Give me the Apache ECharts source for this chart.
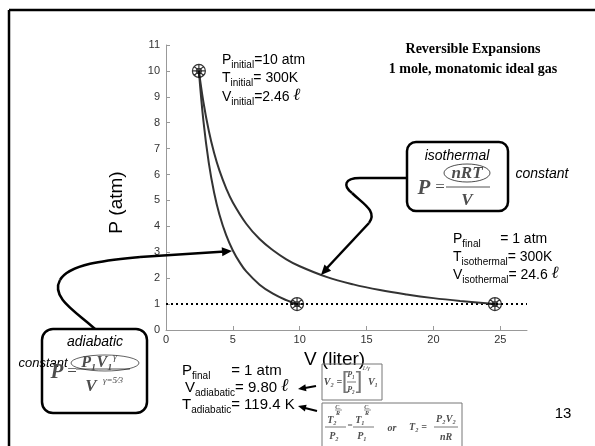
<!DOCTYPE html>
<html><head><meta charset="utf-8">
<script src="https://cdn.jsdelivr.net/npm/echarts@6/dist/echarts.min.js"></script>
<style>html,body{margin:0;padding:0;background:#fff}#c{width:595px;height:446px}</style>
</head><body><div id="c"></div>
<script>
// ---- data ----
const isoV = [2.46, 2.8, 3.2, 3.6, 4, 4.5, 5, 6, 7, 8, 9, 10, 12, 14, 16, 18, 20, 22, 24.6];
const isoP = [10, 8.79, 7.69, 6.83, 6.15, 5.47, 4.92, 4.10, 3.51, 3.08, 2.73, 2.46, 2.05, 1.76, 1.54, 1.37, 1.23, 1.12, 1.0];
const adiV = [2.46, 2.8, 3.2, 3.6, 4, 4.5, 5, 5.5, 6, 7, 8, 9, 9.8];
const adiP = [10, 8.06, 6.45, 5.30, 4.45, 3.66, 3.07, 2.62, 2.26, 1.75, 1.40, 1.15, 1.0];
const stateV = [2.46, 9.80, 24.6];
const stateP = [10, 1, 1];
const refLineV = [0, 27];
const refLineP = [1, 1];
const xTicks = [0, 5, 10, 15, 20, 25];
const yTicks = [0, 1, 2, 3, 4, 5, 6, 7, 8, 9, 10, 11];

const SANS = '"Liberation Sans", Arial, sans-serif';
const SERIF = '"Liberation Serif", "Times New Roman", serif';
const zip = (a, b) => a.map((v, i) => [v, b[i]]);

function richSet(fs, sfs) {
  return {
    m: {fontSize: fs, fontFamily: SANS, fill: '#000', lineHeight: fs, padding: [0, 0, 3, 0], verticalAlign: 'bottom'},
    s: {fontSize: sfs, fontFamily: SANS, fill: '#000', lineHeight: sfs, verticalAlign: 'bottom'},
    l: {fontSize: fs + 3, fontFamily: '"DejaVu Serif", serif', fontStyle: 'italic', fontWeight: 'bold', fill: '#000', lineHeight: fs, padding: [0, 0, 3, 0], verticalAlign: 'bottom'}
  };
}
function rt(x, y, text, fs, sfs) {
  return {type: 'text', x: x, y: y, z: 50, style: {text: text, rich: richSet(fs, sfs), fontSize: fs, fontFamily: SANS, align: 'left', textAlign: 'left', verticalAlign: 'top', textVerticalAlign: 'top'}};
}
function tx(x, y, text, size, o) {
  o = o || {};
  return {type: 'text', x: x, y: y, z: 50, rotation: o.rotation || 0, style: Object.assign({
    text: text, fontSize: size, fontFamily: SANS, fill: '#000',
    align: 'center', textAlign: 'center', verticalAlign: 'middle', textVerticalAlign: 'middle'}, o.style || {})};
}
function ft(x, y, text, size, o) {
  return tx(x, y, text, size, {style: Object.assign({fontFamily: SERIF, fontStyle: 'italic', fontWeight: 'bold', fill: '#4d4d4d'}, o || {})});
}
function ln(x1, y1, x2, y2, w, c) {
  return {type: 'line', z: 40, shape: {x1: x1, y1: y1, x2: x2, y2: y2}, style: {stroke: c || '#000', lineWidth: w || 1}};
}
function bz(x1, y1, c1x, c1y, c2x, c2y, x2, y2, w) {
  return {type: 'bezierCurve', z: 40, shape: {x1: x1, y1: y1, cpx1: c1x, cpy1: c1y, cpx2: c2x, cpy2: c2y, x2: x2, y2: y2}, style: {stroke: '#000', lineWidth: w || 2.5, fill: 'none'}};
}
function arrowHead(tx_, ty, fx, fy, len, half) {
  const dx = tx_ - fx, dy = ty - fy, d = Math.sqrt(dx * dx + dy * dy);
  const ux = dx / d, uy = dy / d, bx = tx_ - ux * len, by = ty - uy * len;
  return {type: 'polygon', z: 41, shape: {points: [[tx_, ty], [bx - uy * half, by + ux * half], [bx + uy * half, by - ux * half]]}, style: {fill: '#000'}};
}
function ellipse(cx, cy, rx, ry) {
  return {type: 'circle', z: 45, x: cx, y: cy, scaleY: ry / rx, shape: {cx: 0, cy: 0, r: rx}, style: {fill: 'none', stroke: '#000', lineWidth: 1, strokeNoScale: true}};
}
function rbox(x, y, w, h, r, lw, c) {
  return {type: 'rect', z: 30, shape: {x: x, y: y, width: w, height: h, r: r}, style: {fill: 'none', stroke: c || '#000', lineWidth: lw}};
}

const SP = ' ';
const graphics = [
  // slide frame
  ln(9, 10, 595, 10, 2.5), ln(9, 10, 9, 446, 2.5),
  // state annotations
  rt(222, 56, '{m|P}{s|initial}{m|=10 atm}', 14, 10),
  rt(222, 74.5, '{m|T}{s|initial}{m|= 300K}', 14, 10),
  rt(222, 93, '{m|V}{s|initial}{m|=2.46 }{l|ℓ}', 14, 10),
  rt(453, 235, '{m|P}{s|final}{m|' + SP.repeat(5) + '= 1 atm}', 14, 10),
  rt(453, 253, '{m|T}{s|isothermal}{m|= 300K}', 14, 10),
  rt(453, 271, '{m|V}{s|isothermal}{m|= 24.6 }{l|ℓ}', 14, 10),
  rt(182, 366, '{m|P}{s|final}{m|' + SP.repeat(5) + '= 1 atm}', 15, 10),
  rt(185, 383, '{m|V}{s|adiabatic}{m|= 9.80 }{l|ℓ}', 15, 10),
  rt(182, 400, '{m|T}{s|adiabatic}{m|= 119.4 K}', 15, 10),
  // isothermal box
  rbox(407, 142, 101, 69, 9, 2.5),
  tx(457, 156, 'isothermal', 14, {style: {fontStyle: 'italic'}}),
  tx(542, 174, 'constant', 14, {style: {fontStyle: 'italic'}}),
  ft(424, 189, 'P', 21),
  ft(440, 188, '=', 17, {fontWeight: 'normal', fontStyle: 'normal'}),
  ft(467, 174, 'nRT', 17),
  ln(446, 187, 490, 187, 1, '#555'),
  ft(467, 201, 'V', 17),
  ellipse(467, 173, 23, 9),
  // adiabatic box
  rbox(42, 329, 105, 84, 11, 2.5),
  tx(95, 342, 'adiabatic', 14, {style: {fontStyle: 'italic'}}),
  tx(43, 363, 'constant', 13, {style: {fontStyle: 'italic'}}),
  ft(57, 373, 'P', 21),
  ft(72, 372, '=', 17, {fontWeight: 'normal', fontStyle: 'normal'}),
  ft(97, 363, 'P₁V₁', 16),
  ft(115, 357, 'γ', 10, {fontWeight: 'normal'}),
  ln(76, 369, 130, 369, 1, '#555'),
  ft(91, 387, 'V', 17),
  ft(113, 381, 'γ=5⁄3', 9, {fontWeight: 'normal'}),
  ellipse(105, 363, 34, 8),
  // connectors
  ln(407, 178, 360, 178, 2.5),
  bz(360, 178, 344, 178, 343, 186, 352, 193),
  bz(352, 193, 362, 203, 378, 211, 369, 223),
  ln(369, 223, 326, 269, 2.5),
  arrowHead(321, 275, 369, 223, 10, 4.5),
  bz(95, 329, 78, 313, 50, 298, 60, 280),
  bz(60, 280, 70, 263, 110, 260, 140, 257),
  ln(140, 257, 225, 251.5, 2.5),
  arrowHead(232, 251, 140, 257, 10, 4.5),
  // formula box 1
  rbox(322, 364, 60, 36, 0, 1, '#777'),
  ft(333, 382, 'V₂ =', 10),
  tx(345, 381, '[', 24, {style: {fill: '#777', fontWeight: 'normal'}}),
  ft(351, 375, 'P₁', 8),
  ln(347, 382, 356, 382, 0.8, '#555'),
  ft(351, 390, 'P₂', 8),
  tx(359, 381, ']', 24, {style: {fill: '#777', fontWeight: 'normal'}}),
  ft(366, 368, '1/γ', 7, {fontWeight: 'normal'}),
  ft(373, 382, 'V₁', 10),
  ln(316, 386, 305, 388, 2.2), arrowHead(298, 389, 316, 386, 8, 3.5),
  // formula box 2
  rbox(322, 403, 140, 50, 0, 1, '#777'),
  ft(338, 407, 'Cᵥ', 6), ln(335, 410, 342, 410, 0.6, '#555'), ft(338, 413, 'R', 6),
  ft(332, 420, 'T₂', 10), ln(325, 427, 346, 427, 0.8, '#555'), ft(334, 436, 'P₂', 10),
  ft(350, 426, '=', 9, {fontWeight: 'normal', fontStyle: 'normal'}),
  ft(367, 407, 'Cᵥ', 6), ln(364, 410, 371, 410, 0.6, '#555'), ft(367, 413, 'R', 6),
  ft(360, 420, 'T₁', 10), ln(353, 427, 374, 427, 0.8, '#555'), ft(362, 436, 'P₁', 10),
  ft(392, 428, 'or', 10),
  ft(418, 427, 'T₂ =', 10),
  ft(446, 419, 'P₂V₂', 10), ln(434, 427, 458, 427, 0.8, '#555'), ft(446, 437, 'nR', 10),
  ln(317, 411, 305, 408, 2.2), arrowHead(298, 406, 317, 411, 8, 3.5),
  // page number
  tx(563, 414, '13', 15)
];

const star = 'path://M6,0A6,6,0,1,1,-6,0A6,6,0,1,1,6,0Z M0,-6L0,6 M-6,0L6,0 M-4.24,-4.24L4.24,4.24 M-4.24,4.24L4.24,-4.24 M2.4,0A2.4,2.4,0,1,1,-2.4,0A2.4,2.4,0,1,1,2.4,0Z';

const chart = echarts.init(document.getElementById('c'), null, {renderer: 'canvas'});
chart.setOption({
  backgroundColor: '#fff',
  animation: false,
  title: {
    text: 'Reversible Expansions\n1 mole, monatomic ideal gas',
    left: 468, top: 34, textAlign: 'center',
    textStyle: {fontFamily: SERIF, fontWeight: 'bold', fontSize: 14, color: '#000', lineHeight: 20}
  },
  grid: {left: 166, right: 68, top: 45, bottom: 116, containLabel: false},
  xAxis: {
    type: 'value', min: 0, max: 27, interval: 5,
    name: 'V (liter)', nameLocation: 'middle', nameGap: 20,
    nameTextStyle: {fontSize: 19, color: '#000', fontFamily: SANS, padding: [0, 24, 0, 0]},
    axisLine: {lineStyle: {color: '#999', width: 1}},
    axisTick: {inside: true, length: 4, lineStyle: {color: '#999'}, customValues: xTicks},
    axisLabel: {customValues: xTicks, color: '#333', fontSize: 11, fontFamily: SANS, margin: 4},
    splitLine: {show: false}
  },
  yAxis: {
    type: 'value', min: 0, max: 11, interval: 1,
    name: 'P (atm)', nameLocation: 'middle', nameGap: 40,
    nameTextStyle: {fontSize: 19, color: '#000', fontFamily: SANS, padding: [0, 30, 0, 0]},
    axisLine: {show: true, lineStyle: {color: '#999', width: 1}},
    axisTick: {show: true, inside: true, length: 4, lineStyle: {color: '#999'}, customValues: yTicks},
    axisLabel: {customValues: yTicks, color: '#333', fontSize: 11, fontFamily: SANS, margin: 6},
    splitLine: {show: false}
  },
  series: [
    {type: 'line', name: 'isothermal', data: zip(isoV, isoP), smooth: 0.4, showSymbol: false,
     lineStyle: {color: '#333', width: 2}, z: 3},
    {type: 'line', name: 'adiabatic', data: zip(adiV, adiP), smooth: 0.4, showSymbol: false,
     lineStyle: {color: '#333', width: 2}, z: 3},
    {type: 'line', name: 'P = 1 atm', data: zip(refLineV, refLineP), showSymbol: false,
     lineStyle: {color: '#000', width: 2, type: [2, 3]}, z: 2},
    {type: 'scatter', name: 'states', data: zip(stateV, stateP), symbol: star, symbolSize: 13,
     itemStyle: {color: 'rgba(255,255,255,0)', borderColor: '#000', borderWidth: 1.2}, z: 5}
  ],
  graphic: {elements: graphics}
});
</script>
</body></html>
